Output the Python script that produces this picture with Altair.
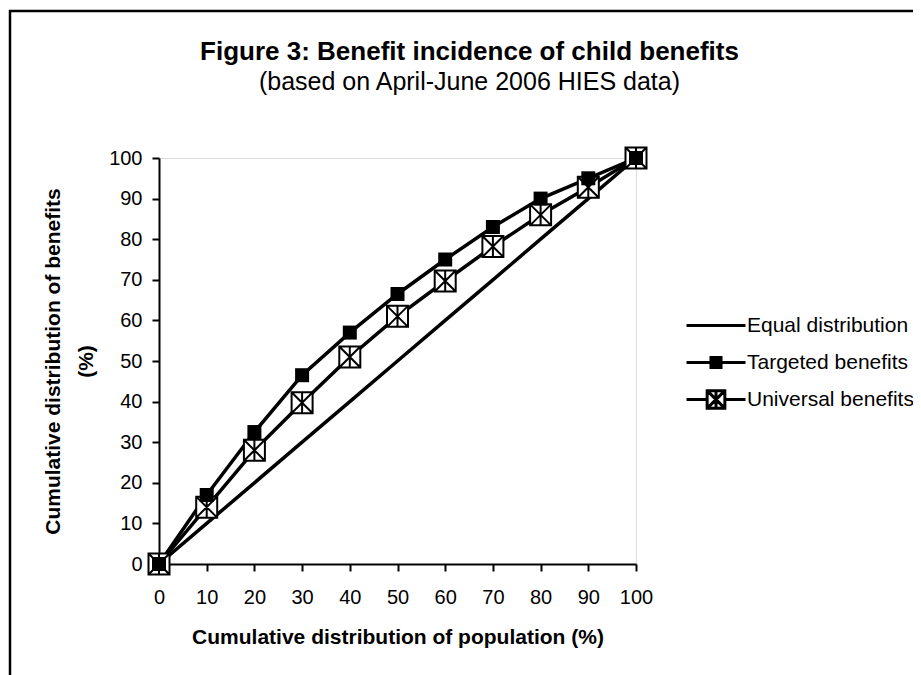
import altair as alt
import pandas as pd

population = [0, 10, 20, 30, 40, 50, 60, 70, 80, 90, 100]
equal = [0, 10, 20, 30, 40, 50, 60, 70, 80, 90, 100]
targeted = [0, 17, 32.5, 46.5, 57, 66.5, 75, 83, 90, 95, 100]
universal = [0, 14, 28, 39.7, 51, 61, 69.7, 78.2, 86, 92.8, 100]
series_names = ["Equal distribution", "Targeted benefits", "Universal benefits"]
x_ticks = [0, 10, 20, 30, 40, 50, 60, 70, 80, 90, 100]
y_ticks = [0, 10, 20, 30, 40, 50, 60, 70, 80, 90, 100]

rows = []
for name, vals in zip(series_names, [equal, targeted, universal]):
    for p, v in zip(population, vals):
        rows.append({"pop": p, "val": v, "series": name})
df = pd.DataFrame(rows)

FONT = "Liberation Sans"

# Custom legend / marker paths
P_EQUAL = "M-1,0H1"
P_TARGET = "M-1,0H1M-0.17,-0.17H0.17V0.17H-0.17Z"
P_UNIV = ("M-1,0H-0.3M0.3,0H1M-0.3,-0.3H0.3V0.3H-0.3Z"
          "M-0.3,-0.3L0.3,0.3M0.3,-0.3L-0.3,0.3M0,-0.3V0.3")
P_UNIV_MARK = "M-1,-1H1V1H-1ZM-1,-1L1,1M1,-1L-1,1M0,-1V1"

xenc = alt.X("pop:Q", scale=alt.Scale(domain=[0, 100], nice=False),
             axis=alt.Axis(values=x_ticks, title="Cumulative distribution of population (%)",
                           grid=False, domainColor="black", domainWidth=2,
                           tickColor="black", tickWidth=2, tickSize=7,
                           labelFontSize=20, labelFont=FONT, labelColor="black",
                           labelPadding=16, titleFontSize=21, titleFont=FONT,
                           titleFontWeight="bold", titleColor="black", titlePadding=19,
                           labelFlush=False))
yenc = alt.Y("val:Q", scale=alt.Scale(domain=[0, 100], nice=False),
             axis=alt.Axis(values=y_ticks, title=["Cumulative distribution of benefits", "(%)"],
                           grid=False, domainColor="black", domainWidth=2,
                           tickColor="black", tickWidth=2, tickSize=7,
                           labelFontSize=20, labelFont=FONT, labelColor="black",
                           labelPadding=10, titleFontSize=21, titleFont=FONT,
                           titleFontWeight="bold", titleColor="black",
                           titleAngle=270, titleLineHeight=33, titleBaseline="middle",
                           titleAlign="center", titleX=-106, titleY=203,
                           labelFlush=False))

frame = alt.Chart(pd.DataFrame({"a": [0]})).mark_rect(
    fill=None, stroke="black", strokeWidth=2.5
).encode(x=alt.value(-149), y=alt.value(-147), x2=alt.value(3000), y2=alt.value(3000))

lines = alt.Chart(df).mark_line(color="black", strokeWidth=3.5).encode(
    x=xenc, y=yenc, detail="series:N"
)

tpts = alt.Chart(df[df.series == "Targeted benefits"]).mark_point(
    shape="square", filled=True, color="black", size=196, opacity=1
).encode(x="pop:Q", y="val:Q")

upts = alt.Chart(df[df.series == "Universal benefits"]).mark_point(
    shape=P_UNIV_MARK, fill="white", stroke="black", strokeWidth=2, size=441, opacity=1,
    filled=False
).encode(x="pop:Q", y="val:Q")

leg = alt.Legend(title=None, orient="none", legendX=526, legendY=149,
                 symbolSize=3481, symbolStrokeWidth=3,
                 symbolOpacity=1, labelFontSize=21, labelFont=FONT, labelColor="black",
                 labelOffset=0, labelLimit=400, clipHeight=37, rowPadding=0, padding=0)

legend_layer = alt.Chart(df).mark_point(filled=False, opacity=0).encode(
    x="pop:Q", y="val:Q",
    shape=alt.Shape("series:N", scale=alt.Scale(domain=series_names,
                                                range=[P_EQUAL, P_TARGET, P_UNIV]),
                    legend=leg),
    fill=alt.Fill("series:N", scale=alt.Scale(domain=series_names,
                                              range=["black", "black", "white"]),
                  legend=leg),
    stroke=alt.Stroke("series:N", scale=alt.Scale(domain=series_names,
                                                  range=["black", "black", "black"]),
                      legend=leg),
)

chart = alt.layer(frame, lines, upts, tpts, legend_layer).properties(
    width=477, height=406,
    autosize=alt.AutoSizeParams(type="none"),
    padding={"left": 151, "top": 150, "right": 277, "bottom": 111},
    title=alt.TitleParams(
        text="Figure 3: Benefit incidence of child benefits",
        subtitle="(based on April-June 2006 HIES data)",
        font=FONT, subtitleFont=FONT, fontSize=26, subtitleFontSize=25,
        fontWeight="bold", color="black", subtitleColor="black",
        anchor="middle", dx=72, offset=-85, subtitlePadding=5,
    ),
).configure_view(stroke="#808080", strokeWidth=2).configure(background="white")

chart.save("out.html", embed_options={"renderer": "svg", "actions": False})
